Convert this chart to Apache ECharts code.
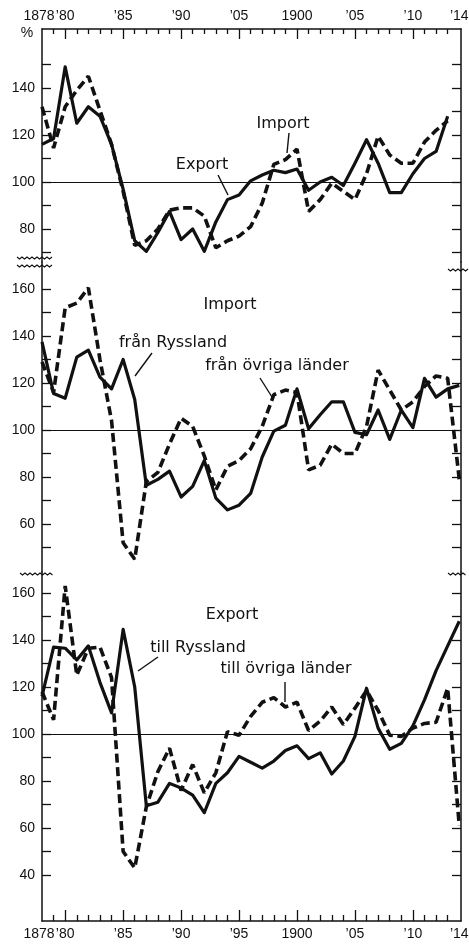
<!DOCTYPE html>
<html>
<head>
<meta charset="utf-8">
<title>Export och import 1878–1914</title>
<script src="https://cdn.jsdelivr.net/npm/echarts@6/dist/echarts.min.js"></script>
<style>
  html, body { margin: 0; padding: 0; background: #fff; }
  #chart { width: 469px; height: 945px; }
</style>
</head>
<body>
<div id="chart"></div>
<script>
const years = [1878, 1879, 1880, 1881, 1882, 1883, 1884, 1885, 1886, 1887,
  1888, 1889, 1890, 1891, 1892, 1893, 1894, 1895, 1896, 1897,
  1898, 1899, 1900, 1901, 1902, 1903, 1904, 1905, 1906, 1907,
  1908, 1909, 1910, 1911, 1912, 1913, 1914];

// top panel, 1878-1913
const exportTotal = [116, 118.5, 149, 125, 132, 128, 116, 97, 75, 70.5,
  78.5, 87.5, 75.5, 80, 70.5, 83, 92.5, 94.5, 100.5, 103,
  105, 104, 105.5, 96.5, 100, 102, 98.5, 108, 118, 108,
  95.5, 95.5, 103.5, 110, 113, 128];
const importTotal = [132, 114.5, 132, 139, 145, 130.5, 116, 96, 73, 75,
  80, 88, 89, 89, 85.5, 72, 75, 77, 81, 91,
  107.5, 109.5, 114, 87.5, 92.5, 99.5, 96, 92.5, 103.5, 119.5,
  111.5, 108, 108, 117, 122, 126];

// middle panel: import
const importRussia = [137.5, 115.5, 113.5, 131, 134, 122.5, 117.5, 130, 113, 76.5,
  79, 82.5, 71.5, 76, 87, 71, 66, 68, 73, 88.5,
  99.5, 102, 117.5, 100.5, 106.5, 112, 112, 99, 98, 108.5,
  96, 108.5, 101, 122, 114, 117.5, 119];
const importOther = [129, 116, 152, 154, 160.5, 130, 104, 52, 45, 78,
  82, 94, 105, 101.5, 89, 74.5, 84.5, 87, 92, 101.5,
  115, 117, 116, 83, 85, 94, 90, 90, 101.5, 125.5,
  117, 108.5, 112, 118.5, 123, 122, 79];

// bottom panel: export
const exportRussia = [116, 137, 136.5, 131.5, 137.5, 122, 109, 144.5, 120, 69.5,
  71, 79, 77, 74, 66.5, 79, 83.5, 90.5, 88, 85.5,
  88.5, 93, 95, 89.5, 92, 83, 88.5, 99, 119.5, 102.5,
  93.5, 96, 103.5, 114.5, 127, 137.5, 148];
const exportOther = [118, 106, 163, 125, 136.5, 137, 124, 50, 43, 69,
  84, 94, 76, 87, 75, 83.5, 101, 99.5, 107.5, 113.5,
  115.5, 111.5, 113.5, 101.5, 105.5, 111.5, 104, 111, 118.5, 110,
  99.5, 99, 102.5, 104.5, 105, 119.5, 61];

const topTickLabels = { 1878: '{first|1878}', 1880: '’80', 1885: '’85', 1890: '’90', 1895: '’05',
  1900: '1900', 1905: '’05', 1910: '’10', 1914: '’14' };
const bottomTickLabels = { 1878: '{first|1878}', 1880: '’80', 1885: '’85', 1890: '’90', 1895: '’95',
  1900: '1900', 1905: '’05', 1910: '’10', 1914: '’14' };
const labelYears = [1880, 1885, 1890, 1895, 1900, 1905, 1910, 1914];
const majorYears = [1880, 1885, 1890, 1895, 1900, 1905, 1910];
const minorYears = years.filter(y => y > 1878 && y < 1914 && majorYears.indexOf(y) < 0);

const ink = '#111';
const tickFont = { fontFamily: 'Liberation Sans', fontSize: 14, color: ink };

function pairs(vals) {
  return vals.map((v, i) => [years[i], v]);
}

function yAxes(gridIndex, min, max, ticks, labels) {
  const common = {
    type: 'value', gridIndex: gridIndex, min: min, max: max,
    splitLine: { show: false },
    axisLine: { show: true, onZero: false, lineStyle: { color: ink, width: 1.5 } },
    axisTick: { show: true, inside: true, length: 9, customValues: ticks, lineStyle: { color: ink, width: 1.3 } }
  };
  return [
    Object.assign({}, common, {
      position: 'left',
      axisLabel: Object.assign({ show: true, margin: 7, customValues: labels }, tickFont)
    }),
    Object.assign({}, common, { position: 'right', axisLabel: { show: false } })
  ];
}

// one grid may carry several x axes: the line with the short ticks, the long ticks,
// and the first year label on its own so it is not dropped next to ’80
function xAxis(gridIndex, position, ticks, tickLen, showLine, labels, labelValues) {
  return {
    type: 'value', gridIndex: gridIndex, position: position,
    min: 1878, max: 1914.15,
    splitLine: { show: false },
    axisLine: { show: showLine, onZero: false, lineStyle: { color: ink, width: 1.5 } },
    axisTick: { show: ticks.length > 0, inside: true, length: tickLen, customValues: ticks,
      lineStyle: { color: ink, width: 1.3 } },
    axisLabel: labels
      ? Object.assign({ show: true, margin: 6, customValues: labelValues,
          showMinLabel: true, showMaxLabel: true, hideOverlap: false,
          rich: { first: { fontFamily: 'Liberation Sans', fontSize: 14, color: ink, padding: [0, 6, 0, 0] } },
          formatter: v => labels[v] || '' }, tickFont)
      : { show: false }
  };
}

function solid(name, data, xi, yi) {
  return {
    name: name, type: 'line', xAxisIndex: xi, yAxisIndex: yi,
    data: pairs(data), showSymbol: false, silent: true,
    lineStyle: { color: ink, width: 3.2, type: 'solid', join: 'round' },
    markLine: {
      silent: true, symbol: 'none', label: { show: false },
      lineStyle: { color: ink, width: 1.2, type: 'solid' },
      data: [{ yAxis: 100 }]
    }
  };
}

function dashed(name, data, xi, yi) {
  return {
    name: name, type: 'line', xAxisIndex: xi, yAxisIndex: yi,
    data: pairs(data), showSymbol: false, silent: true,
    lineStyle: { color: ink, width: 3.6, type: [9, 4.5], cap: 'butt' }
  };
}

function label(text, x, y) {
  return { type: 'text', x: x, y: y, silent: true,
    style: { text: text, fill: ink, font: '16px "DejaVu Sans"', textAlign: 'center', textVerticalAlign: 'middle' } };
}

function leader(x1, y1, x2, y2) {
  return { type: 'line', silent: true, shape: { x1: x1, y1: y1, x2: x2, y2: y2 },
    style: { stroke: ink, lineWidth: 1.4 } };
}

// little wavy break mark
function wave(x0, x1, y) {
  const pts = [];
  for (let x = x0, k = 0; x <= x1; x += 2.5, k++) pts.push([x, y + (k % 2 ? 1 : -1)]);
  return { type: 'polyline', silent: true, shape: { points: pts },
    style: { stroke: ink, lineWidth: 1.1, fill: null } };
}

const chart = echarts.init(document.getElementById('chart'), null, { renderer: 'canvas' });

const option = {
  backgroundColor: '#fff',
  animation: false,
  grid: [
    { left: 42, right: 8, top: 29, height: 233, outerBoundsMode: 'none' },
    { left: 42, right: 8, top: 262, height: 310, outerBoundsMode: 'none' },
    { left: 42, right: 8, top: 572, height: 349, outerBoundsMode: 'none' }
  ],
  xAxis: [
    xAxis(0, 'top', minorYears, 5, true, topTickLabels, labelYears),
    xAxis(0, 'top', majorYears, 10, false, null),
    xAxis(1, 'bottom', [], 0, false, null),
    xAxis(2, 'bottom', minorYears, 6, true, bottomTickLabels, labelYears),
    xAxis(2, 'bottom', majorYears, 11, false, null),
    xAxis(0, 'top', [], 0, false, topTickLabels, [1878]),
    xAxis(2, 'bottom', [], 0, false, bottomTickLabels, [1878])
  ],
  yAxis: [].concat(
    yAxes(0, 65.96, 165.1, [70, 80, 90, 100, 110, 120, 130, 140, 150], [80, 100, 120, 140]),
    yAxes(1, 39.57, 171.49, [50, 60, 70, 80, 90, 100, 110, 120, 130, 140, 150, 160], [60, 80, 100, 120, 140, 160]),
    yAxes(2, 20.43, 168.94, [40, 50, 60, 70, 80, 90, 100, 110, 120, 130, 140, 150, 160], [40, 60, 80, 100, 120, 140, 160])
  ),
  series: [
    solid('Export', exportTotal, 0, 0),
    dashed('Import', importTotal, 0, 0),
    solid('Import från Ryssland', importRussia, 2, 2),
    dashed('Import från övriga länder', importOther, 2, 2),
    solid('Export till Ryssland', exportRussia, 3, 4),
    dashed('Export till övriga länder', exportOther, 3, 4)
  ],
  graphic: [
    { type: 'text', x: 27, y: 33, silent: true,
      style: { text: '%', fill: ink, font: '14px "Liberation Sans"', textAlign: 'center', textVerticalAlign: 'middle' } },
    label('Import', 283, 124), leader(289, 133, 287, 153),
    label('Export', 202, 165), leader(218, 175, 228, 195),
    label('Import', 230, 305),
    label('från Ryssland', 173, 343), leader(152, 353, 135, 376),
    label('från övriga länder', 277, 366), leader(260, 378, 272, 397),
    label('Export', 232, 615),
    label('till Ryssland', 198, 648), leader(158, 657, 138, 671),
    label('till övriga länder', 286, 669), leader(285, 682, 285, 702),
    wave(17, 53, 258), wave(17, 53, 266), wave(448, 468, 270),
    wave(20, 53, 574), wave(448, 466, 574)
  ]
};

chart.setOption(option);
</script>
</body>
</html>
